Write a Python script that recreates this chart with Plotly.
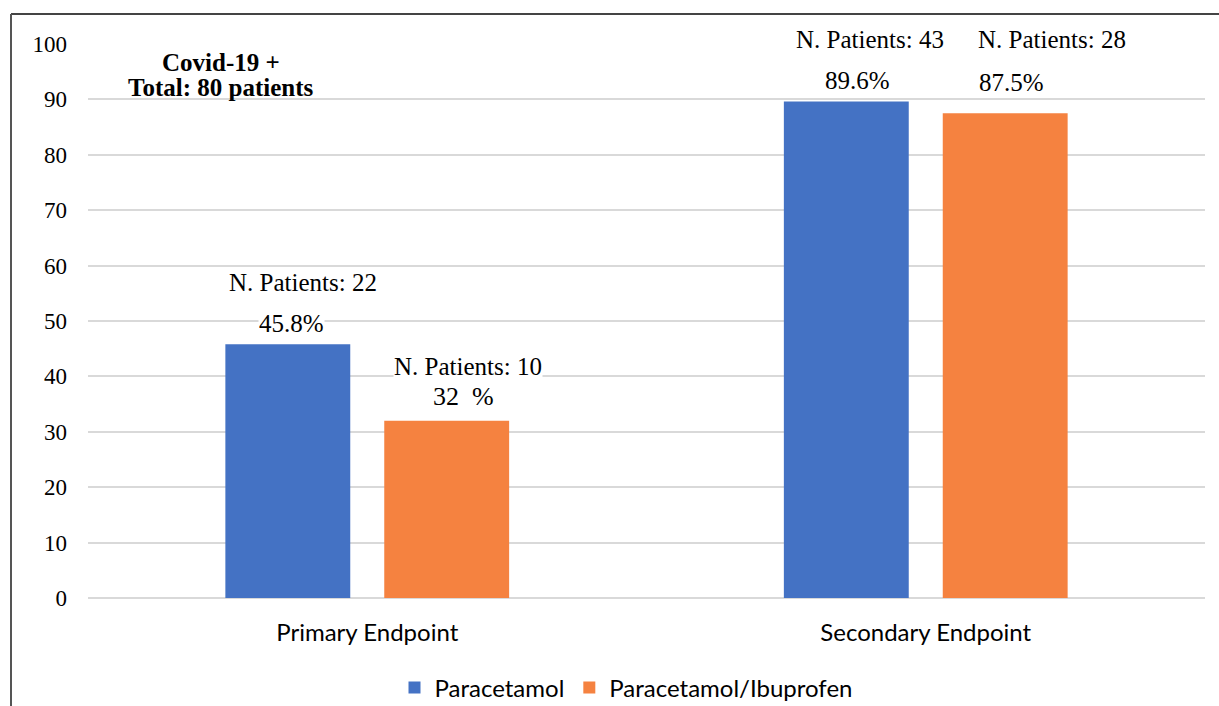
import plotly.graph_objects as go

categories = ["Primary Endpoint", "Secondary Endpoint"]
paracetamol = [45.8, 89.6]
para_ibu = [32, 87.5]
series_names = ["Paracetamol", "Paracetamol/Ibuprofen"]
patients_para = [22, 43]
patients_combo = [10, 28]
pct_labels_para = ["45.8%", "89.6%"]
pct_labels_combo = ["32\u00a0\u00a0%", "87.5%"]

BLUE = "#4472C4"
ORANGE = "#F58240"
SERIF = "Liberation Serif"
SANS = "Lato"

L, R, T, B = 88, 14, 44, 108
W, H = 1219, 706
pw, ph = W - L - R, H - T - B
def px2paper_x(px):
    return (px - L) / pw
def px2paper_y(py):
    return (H - B - py) / ph

fig = go.Figure()
fig.add_trace(go.Bar(x=categories, y=paracetamol, name=series_names[0],
                     marker=dict(color=BLUE, line=dict(width=0))))
fig.add_trace(go.Bar(x=categories, y=para_ibu, name=series_names[1],
                     marker=dict(color=ORANGE, line=dict(width=0))))

ann = []
def label(x, y, text, size=25, bold=False, yref="y"):
    ann.append(dict(x=x, y=y, xref="x", yref=yref, text=("<b>%s</b>" % text) if bold else text,
                    showarrow=False, xanchor="center", yanchor="middle",
                    font=dict(family=SERIF, size=size, color="black"),
                    bgcolor="white", borderpad=0))

# Primary endpoint labels
label(-0.115, 56.9, "N. Patients: %d" % patients_para[0])
label(-0.135, 49.6, pct_labels_para[0])
label(0.18, 41.7, "N. Patients: %d" % patients_combo[0])
label(0.173, 36.3, pct_labels_combo[0], size=26)
# Secondary endpoint labels (top row sits above the axis range -> paper coords)
label(0.9, px2paper_y(40), "N. Patients: %d" % patients_para[1], yref="paper")
label(0.877, 93.5, pct_labels_para[1])
label(1.226, px2paper_y(40), "N. Patients: %d" % patients_combo[1], yref="paper")
label(1.154, 93.0, pct_labels_combo[1])

# Title block
label(-0.262, px2paper_y(62), "Covid-19 +", size=25, bold=True, yref="paper")
label(-0.262, px2paper_y(87), "Total: 80 patients", size=25, bold=True, yref="paper")
for a in ann[-2:]:
    a["bgcolor"] = "rgba(0,0,0,0)"

shapes = [
    dict(type="line", xref="paper", yref="paper", x0=px2paper_x(11), x1=px2paper_x(1219),
         y0=px2paper_y(14), y1=px2paper_y(14), line=dict(color="#444444", width=2)),
    dict(type="line", xref="paper", yref="paper", x0=px2paper_x(11), x1=px2paper_x(11),
         y0=px2paper_y(14), y1=px2paper_y(706), line=dict(color="#555555", width=2)),
]

fig.update_layout(
    width=W, height=H,
    margin=dict(l=L, r=R, t=T, b=B, autoexpand=False),
    paper_bgcolor="white", plot_bgcolor="white",
    barmode="group", bargap=0.431, bargroupgap=0.214,
    annotations=ann, shapes=shapes,
    showlegend=True,
    legend=dict(orientation="h", x=px2paper_x(626), xanchor="center", y=px2paper_y(688),
                yanchor="middle",
                font=dict(family=SANS, size=24, color="black"), traceorder="normal"),
)
fig.update_yaxes(range=[0, 100], dtick=10, showgrid=True, gridcolor="#D9D9D9", gridwidth=1.5,
                 zeroline=True, zerolinecolor="#D9D9D9", zerolinewidth=1.5,
                 tickfont=dict(family=SERIF, size=23, color="black"), ticklabelstandoff=20,
                 showline=False, fixedrange=True, automargin=False)
fig.update_xaxes(showgrid=False, showline=False, tickfont=dict(family=SANS, size=24, color="black"),
                 ticklabelstandoff=18, automargin=False)

fig.write_html("out.html", config={"displayModeBar": False},
               post_script="document.body.style.margin='0';document.body.style.overflow='hidden';")
